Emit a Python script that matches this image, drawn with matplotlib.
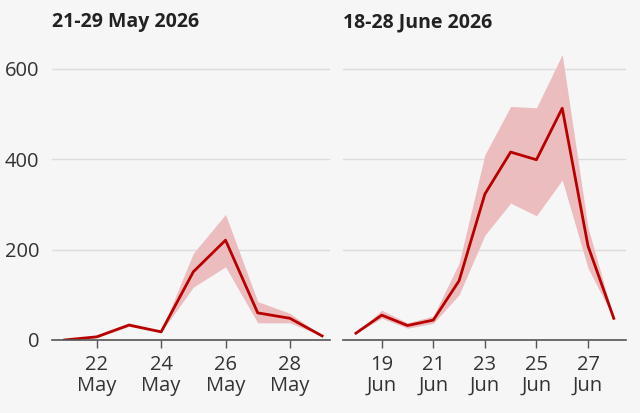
import numpy as np
import matplotlib.pyplot as plt

plt.rcParams['font.family'] = ['Open Sans', 'DejaVu Sans']

# May wave
may_days = [21, 22, 23, 24, 25, 26, 27, 28, 29]
may_mid = [0, 7, 33, 18, 151, 221, 60, 48, 9]
may_low = [0, 5, 30, 17, 117, 162, 38, 38, 9]
may_high = [0, 8, 38, 19, 192, 278, 85, 59, 9]
may_ticks = [22, 24, 26, 28]

# June wave
jun_days = [18, 19, 20, 21, 22, 23, 24, 25, 26, 27, 28]
jun_mid = [15, 55, 32, 44, 131, 323, 416, 399, 513, 208, 48]
jun_low = [15, 48, 26, 37, 100, 232, 303, 275, 354, 159, 48]
jun_high = [15, 66, 38, 53, 170, 410, 517, 514, 632, 249, 48]
jun_ticks = [19, 21, 23, 25, 27]

bg = '#f6f6f6'
red = '#b80000'
band = '#ebbdbf'

fig = plt.figure(figsize=(6.4, 4.13), dpi=100, facecolor=bg)
ax1 = fig.add_axes([0.0813, 0.1768, 0.4343, 0.70])
ax2 = fig.add_axes([0.536, 0.1768, 0.442, 0.70])

panels = [
    (ax1, may_days, may_mid, may_low, may_high, may_ticks, 'May', '21-29 May 2026', (20.61, 29.245)),
    (ax2, jun_days, jun_mid, jun_low, jun_high, jun_ticks, 'Jun', '18-28 June 2026', (17.5, 28.47)),
]

for ax, d, mid, lo, hi, ticks, mon, title, xl in panels:
    ax.set_facecolor(bg)
    ax.fill_between(d, lo, hi, color=band, lw=0, zorder=2)
    ax.plot(d, mid, color=red, lw=2, zorder=3)
    ax.set_xlim(*xl)
    ax.set_ylim(0, 640)
    ax.set_yticks([0, 200, 400, 600])
    ax.grid(axis='y', color='#dcdcdc', lw=1, zorder=1)
    for s in ['top', 'right', 'left']:
        ax.spines[s].set_visible(False)
    ax.spines['bottom'].set_color('#555555')
    ax.spines['bottom'].set_linewidth(1.2)
    ax.spines['bottom'].set_zorder(4)
    ax.set_xticks(ticks)
    ax.set_xticklabels([f'{t}\n{mon}' for t in ticks], linespacing=1.05)
    ax.tick_params(axis='x', length=6, width=1, color='#555555', labelsize=14.5,
                   labelcolor='#333333', pad=5)
    ax.tick_params(axis='y', length=0, labelsize=14.5, labelcolor='#333333', pad=9)
    ax.set_title(title, loc='left', fontsize=14, fontweight='bold', color='#222222',
                 x=0.0, y=1.0, pad=17)

ax2.tick_params(axis='y', labelleft=False)

fig.savefig('out.png', dpi=100, facecolor=bg)
